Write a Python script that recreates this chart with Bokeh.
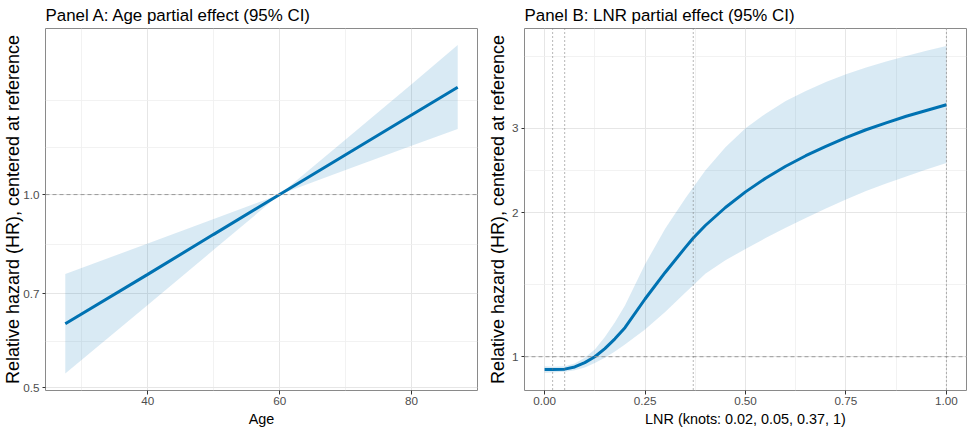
from bokeh.plotting import figure
from bokeh.layouts import row
from bokeh.models import Range1d, FixedTicker, PrintfTickFormatter, Span
from bokeh.embed import file_html
from bokeh.resources import INLINE

# ---- Panel A data (Age) ----
age = [27.5, 40, 50, 60, 70, 80, 87]
age_hr = [0.629, 0.751, 0.867, 1.0, 1.154, 1.331, 1.47]
age_lo = [0.526, 0.673, 0.820, 1.0, 1.092, 1.192, 1.265]
age_hi = [0.752, 0.839, 0.916, 1.0, 1.219, 1.486, 1.711]
age_xticks = [40, 60, 80]
age_xminor = [30, 50, 70, 90]
age_yticks = [0.5, 0.7, 1.0]
age_yminor = [0.59, 0.837, 1.183, 1.4]

# ---- Panel B data (LNR) ----
lnr = [0, 0.02, 0.05, 0.075, 0.10, 0.125, 0.15, 0.175, 0.20, 0.25, 0.30, 0.35,
       0.37, 0.40, 0.45, 0.50, 0.55, 0.60, 0.65, 0.70, 0.75, 0.80, 0.85, 0.90,
       0.95, 1.00]
lnr_hr = [0.94, 0.94, 0.942, 0.952, 0.972, 1.0, 1.04, 1.09, 1.15, 1.32, 1.50, 1.69,
          1.77, 1.88, 2.05, 2.21, 2.36, 2.50, 2.63, 2.75, 2.87, 2.98, 3.08, 3.18,
          3.27, 3.36]
lnr_lo = [0.925, 0.927, 0.93, 0.937, 0.95, 0.97, 0.995, 1.025, 1.06, 1.14, 1.24, 1.36,
          1.41, 1.49, 1.59, 1.68, 1.77, 1.86, 1.95, 2.04, 2.13, 2.22, 2.30, 2.38,
          2.46, 2.54]
lnr_hi = [0.955, 0.953, 0.955, 0.968, 0.995, 1.035, 1.10, 1.18, 1.28, 1.56, 1.85, 2.14,
          2.26, 2.45, 2.74, 3.00, 3.22, 3.42, 3.59, 3.75, 3.89, 4.02, 4.14, 4.25,
          4.36, 4.46]
knots = [0.02, 0.05, 0.37, 1.0]
lnr_xticks = [0, 0.25, 0.5, 0.75, 1.0]
lnr_xminor = [0.125, 0.375, 0.625, 0.875]
lnr_yticks = [1, 2, 3]
lnr_yminor = [1.414, 2.449, 4.243]

FONT = "Liberation Sans"
LINE = "#0072B2"
YTITLE = "Relative hazard (HR), centered at reference"


def style(p, xt, xm, yt, ym, yfmt, xfmt, ystand):
    p.xaxis.ticker = FixedTicker(ticks=xt, minor_ticks=xm)
    p.yaxis.ticker = FixedTicker(ticks=yt, minor_ticks=ym)
    p.xgrid.ticker = FixedTicker(ticks=xt, minor_ticks=xm)
    p.ygrid.ticker = FixedTicker(ticks=yt, minor_ticks=ym)
    p.yaxis.formatter = PrintfTickFormatter(format=yfmt)
    p.xaxis.formatter = PrintfTickFormatter(format=xfmt)
    for g in (p.xgrid, p.ygrid):
        g.grid_line_color = "#E6E6E6"
        g.grid_line_width = 1
        g.minor_grid_line_color = "#EFEFEF"
        g.minor_grid_line_width = 0.8
    for ax in (p.xaxis, p.yaxis):
        ax.axis_line_color = None
        ax.minor_tick_line_color = None
        ax.major_tick_line_color = "#333333"
        ax.major_tick_in = 0
        ax.major_label_text_font = FONT
        ax.major_label_text_font_size = "11.7px"
        ax.major_label_text_color = "#4D4D4D"
        ax.axis_label_text_font = FONT
        ax.axis_label_text_font_style = "normal"
        ax.axis_label_text_color = "#000000"
    p.xaxis.major_tick_out = 4
    p.xaxis.major_label_standoff = 2
    p.xaxis.axis_label_standoff = 3
    p.xaxis.axis_label_text_font_size = "14.4px"
    p.yaxis.major_tick_out = 3
    p.yaxis.major_label_standoff = 2
    p.yaxis.axis_label_standoff = ystand
    p.yaxis.axis_label_text_font_size = "18px"
    p.outline_line_color = "#8A8A8A"
    p.outline_line_width = 1
    p.title.text_font = FONT
    p.title.text_font_size = "16.9px"
    p.title.text_font_style = "normal"
    p.title.text_color = "#000000"
    p.title.align = "left"
    p.title.standoff = 7
    p.background_fill_color = "white"
    p.border_fill_color = "white"


# ---- Panel A ----
p1 = figure(width=484, height=429, y_axis_type="log",
            x_range=Range1d(24.5, 90.0), y_range=Range1d(0.495, 1.815),
            title="Panel A: Age partial effect (95% CI)",
            x_axis_label="Age", y_axis_label=YTITLE,
            output_backend="svg", toolbar_location=None,
            min_border_left=43, min_border_right=7,
            min_border_top=26, min_border_bottom=39)
style(p1, age_xticks, age_xminor, age_yticks, age_yminor, "%.1f", "%d", -3)
p1.varea(x=age, y1=age_lo, y2=age_hi, fill_color=LINE, fill_alpha=0.15)
p1.add_layout(Span(location=1.0, dimension="width", line_color="#9A9A9A",
                   line_dash="4 3", line_width=1))
p1.line(age, age_hr, line_color=LINE, line_width=3)

# ---- Panel B ----
p2 = figure(width=485, height=429, y_axis_type="log",
            x_range=Range1d(-0.05, 1.05), y_range=Range1d(0.85, 4.85),
            title="Panel B: LNR partial effect (95% CI)",
            x_axis_label="LNR (knots: 0.02, 0.05, 0.37, 1)", y_axis_label=YTITLE,
            output_backend="svg", toolbar_location=None,
            min_border_left=39, min_border_right=3,
            min_border_top=26, min_border_bottom=39)
style(p2, lnr_xticks, lnr_xminor, lnr_yticks, lnr_yminor, "%d", "%.2f", 1)
p2.varea(x=lnr, y1=lnr_lo, y2=lnr_hi, fill_color=LINE, fill_alpha=0.15)
p2.add_layout(Span(location=1.0, dimension="width", line_color="#9A9A9A",
                   line_dash="4 3", line_width=1))
for k in knots:
    p2.add_layout(Span(location=k, dimension="height", line_color="#6E6E6E",
                       line_dash="1 3", line_width=1))
p2.line(lnr, lnr_hr, line_color=LINE, line_width=3)

layout = row(p1, p2)
open("out.html", "w").write(file_html(layout, INLINE))
